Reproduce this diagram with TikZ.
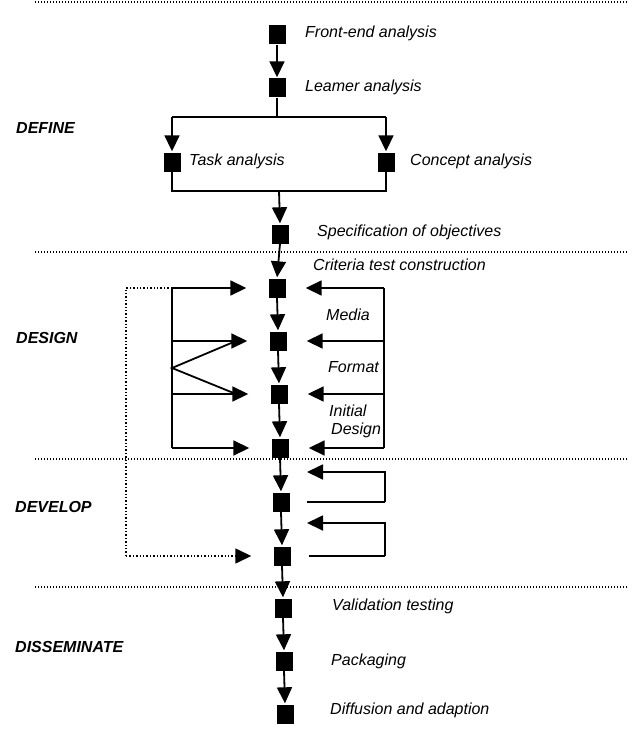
\documentclass[tikz,border=0pt]{standalone}
\usepackage{fontspec}
\setmainfont{Liberation Sans}
\usetikzlibrary{arrows.meta}
\begin{document}
\begin{tikzpicture}[x=1pt,y=-1pt,
  sq/.style={fill=black,draw=none,minimum width=17pt,minimum height=19pt,inner sep=0pt},
  lbl/.style={anchor=west,inner sep=0pt,font=\fontsize{16}{19}\selectfont\itshape},
  phase/.style={anchor=west,inner sep=0pt,font=\fontsize{16}{19}\selectfont\bfseries\itshape},
  ln/.style={line width=1.8pt},
  tip/.tip={Triangle[length=16pt,width=15pt]},
  arr/.style={line width=1.8pt,-tip},
  sep/.style={line width=1.2pt,dash pattern=on 1.2pt off 1.8pt},
  fb/.style={line width=1.4pt,dash pattern=on 1.4pt off 2pt}
]
\useasboundingbox (0,0) rectangle (635,749);

% separators
\coordinate (s0a) at (35,2);   \coordinate (s0b) at (628,2);
\coordinate (s1a) at (35,252); \coordinate (s1b) at (628,252);
\coordinate (s2a) at (35,459); \coordinate (s2b) at (628,459);
\coordinate (s3a) at (35,587); \coordinate (s3b) at (628,587);
\draw[sep] (s0a) -- (s0b);
\draw[sep] (s1a) -- (s1b);
\draw[sep] (s2a) -- (s2b);
\draw[sep] (s3a) -- (s3b);

% phase labels
\node[phase] (pDefine) at (16,128) {DEFINE};
\node[phase] (pDesign) at (16,338) {DESIGN};
\node[phase] (pDevelop) at (15,507) {DEVELOP};
\node[phase] (pDiss) at (15,647) {DISSEMINATE};

% squares
\node[sq] (fe) at (277,35) {};
\node[sq] (le) at (277,88) {};
\node[sq] (ta) at (172,162) {};
\node[sq] (ca) at (386,162) {};
\node[sq] (sp) at (280,234) {};
\node[sq] (d1) at (277,288) {};
\node[sq] (d2) at (278,341) {};
\node[sq] (d3) at (279,394) {};
\node[sq] (d4) at (280,448) {};
\node[sq] (v1) at (281,502) {};
\node[sq] (v2) at (282,556) {};
\node[sq] (m1) at (283,608) {};
\node[sq] (m2) at (284,661) {};
\node[sq] (m3) at (285,714) {};

% labels
\node[lbl] (tfe) at (305,33) {Front-end analysis};
\node[lbl] (tle) at (305,87) {Leamer analysis};
\node[lbl] (tta) at (189,161) {Task analysis};
\node[lbl] (tca) at (410,161) {Concept analysis};
\node[lbl] (tsp) at (317,232) {Specification of objectives};
\node[lbl] (tcr) at (313,265) {Criteria test construction};
\node[lbl] (tme) at (326,315) {Media};
\node[lbl] (tfo) at (328,367) {Format};
\node[lbl] (tin) at (329,411) {Initial};
\node[lbl] (tde) at (331,430) {Design};
\node[lbl] (tva) at (332,606) {Validation testing};
\node[lbl] (tpa) at (331,661) {Packaging};
\node[lbl] (tdi) at (330,710) {Diffusion and adaption};

% define section
\draw[arr,shorten >=1pt] (fe.south) -- (le.north);
\coordinate (j1) at (277,117);
\coordinate (j1l) at (172,117);
\coordinate (j1r) at (386,117);
\draw[ln] (le.south) -- (j1);
\draw[ln] (j1l) -- (j1r);
\draw[arr,shorten >=1pt] (j1l) -- (ta.north);
\draw[arr,shorten >=1pt] (j1r) -- (ca.north);
\coordinate (j2l) at (172,191);
\coordinate (j2r) at (386,191);
\coordinate (j2) at (279,191);
\draw[ln] (ta.south) -- (j2l) -- (j2r) -- (ca.south);
\draw[arr,shorten >=1pt] (j2) -- (sp.north);

% main column
\draw[arr,shorten >=1pt] (sp.south) -- (d1.north);
\draw[arr,shorten >=1pt] (d1.south) -- (d2.north);
\draw[arr,shorten >=1pt] (d2.south) -- (d3.north);
\draw[arr,shorten >=1pt] (d3.south) -- (d4.north);
\draw[arr,shorten >=1pt] (d4.south) -- (v1.north);
\draw[arr,shorten >=1pt] (v1.south) -- (v2.north);
\draw[arr,shorten >=1pt] (v2.south) -- (m1.north);
\draw[arr,shorten >=1pt] (m1.south) -- (m2.north);
\draw[arr,shorten >=1pt] (m2.south) -- (m3.north);

% design left bracket
\coordinate (lb1) at (172,288);
\coordinate (lb2) at (172,341);
\coordinate (lb3) at (172,394);
\coordinate (lb4) at (172,448);
\coordinate (lbv) at (172,368);
\draw[ln] (lb1) -- (lb4);
\draw[arr] (lb1) -- ([xshift=-22pt]d1.west);
\draw[arr] (lb2) -- ([xshift=-22pt]d2.west);
\draw[arr] (lb3) -- ([xshift=-22pt]d3.west);
\draw[arr] (lb4) -- ([xshift=-22pt]d4.west);
\coordinate (va) at (236,341);
\coordinate (vb) at (236,394);
\draw[ln] (va) -- (lbv) -- (vb);

% design right bracket
\coordinate (rb1) at (384,288);
\coordinate (rb2) at (384,341);
\coordinate (rb3) at (384,394);
\coordinate (rb4) at (384,448);
\draw[ln] (rb1) -- (rb4);
\draw[arr] (rb1) -- ([xshift=20pt]d1.east);
\draw[arr] (rb2) -- ([xshift=20pt]d2.east);
\draw[arr] (rb3) -- ([xshift=20pt]d3.east);
\draw[arr] (rb4) -- ([xshift=20pt]d4.east);

% develop loops
\coordinate (r1a) at (385,502);
\coordinate (r1b) at (385,472);
\coordinate (r1t) at (307,472);
\draw[ln] ([xshift=17pt]v1.east) -- (r1a);
\draw[arr] (r1a) -- (r1b) -- (r1t);
\coordinate (r2a) at (385,556);
\coordinate (r2b) at (385,523);
\coordinate (r2t) at (307,523);
\draw[ln] ([xshift=18pt]v2.east) -- (r2a);
\draw[arr] (r2a) -- (r2b) -- (r2t);

% dotted feedback
\coordinate (fb1) at (126,288);
\coordinate (fb2) at (126,556);
\draw[fb] (lb1) -- (fb1) -- (fb2);
\draw[fb,-tip] (fb2) -- ([xshift=-22pt]v2.west);
\end{tikzpicture}
\end{document}
